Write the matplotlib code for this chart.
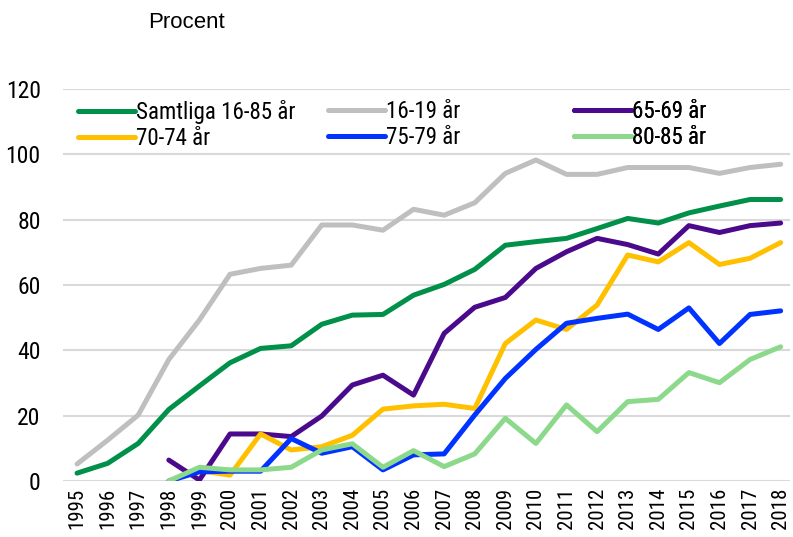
import os
import numpy as np
import matplotlib
matplotlib.use("Agg")
import matplotlib.pyplot as plt
from matplotlib import font_manager

years = list(range(1995, 2019))
year_labels = [str(y) for y in years]

samtliga = [2.4, 5.4, 11.5, 21.9, 29.1, 36.2, 40.6, 41.4, 48, 50.8, 51, 56.9,
            60.2, 64.8, 72.2, 73.3, 74.3, 77.3, 80.4, 79, 82.1, 84.2, 86.2, 86.2]
age_16_19 = [5.2, 12.5, 20.2, 37.2, 49.3, 63.3, 65.1, 66.1, 78.4, 78.4, 76.8, 83.2,
             81.4, 85.2, 94.2, 98.3, 93.9, 93.9, 96, 96, 96, 94.2, 96, 97]
# older groups start in 1998
age_65_69 = [6.4, 0.3, 14.4, 14.4, 13.6, 19.9, 29.4, 32.4, 26.3, 45.2, 53.2, 56.2,
             65.1, 70.2, 74.3, 72.4, 69.5, 78.2, 76.1, 78.2, 79]
age_70_74 = [0, 3.2, 1.8, 14.4, 9.5, 10.5, 14, 22, 23, 23.5, 22.2, 42.1,
             49.3, 46.4, 53.9, 69.2, 67.1, 73, 66.3, 68.2, 73]
age_75_79 = [0, 2.8, 3, 3, 13, 8.5, 10.5, 3.4, 8, 8.3, 20.2, 31.4,
             40.3, 48.3, 49.8, 51.1, 46.4, 53, 42.1, 51, 52.1]
age_80_85 = [0, 4.2, 3.4, 3.4, 4.2, 9.5, 11.4, 4.2, 9.3, 4.4, 8.3, 19.2,
             11.5, 23.3, 15.1, 24.3, 25, 33.2, 30.1, 37.2, 41.1]

series = [
    ("Samtliga 16-85 år", samtliga, "#00904a"),
    ("16-19 år", age_16_19, "#bfbfbf"),
    ("65-69 år", age_65_69, "#4b0a8c"),
    ("70-74 år", age_70_74, "#ffc000"),
    ("75-79 år", age_75_79, "#0033ff"),
    ("80-85 år", age_80_85, "#8cd98c"),
]

# look for a condensed face, the original uses one
wanted = ["liberationsansnarrow-regular", "robotocondensed-regular",
          "dejavusanscondensed.ttf", "notosans-condensed.ttf",
          "opensans_condensed-regular", "opensanscondensed-regular"]
cond_path = None
files = [f.fname for f in font_manager.fontManager.ttflist]
for w in wanted:
    for fn in files:
        if w in os.path.basename(fn).lower():
            cond_path = fn
            break
    if cond_path:
        break

if cond_path:
    fp = font_manager.FontProperties(fname=cond_path)
    scale = 1.0
else:
    fp = font_manager.FontProperties(family="DejaVu Sans")
    scale = 0.8

fig = plt.figure(figsize=(7.93, 5.37), dpi=100)
ax = fig.add_axes([0.0794, 0.1043, 0.9166, 0.7297])

x = np.arange(len(years))
lines = []
for label, vals, col in series:
    xs = x[len(years) - len(vals):]
    ln, = ax.plot(xs, vals, color=col, lw=3.6, label=label,
                  solid_capstyle='round', solid_joinstyle='round')
    lines.append(ln)

ax.set_ylim(0, 120)
ax.set_xlim(-0.46, 23.3)
ax.set_yticks(range(0, 121, 20))
ax.yaxis.grid(True, color="#d9d9d9", lw=1.5)
ax.set_axisbelow(True)
ax.set_xticks(x)
ax.set_xticklabels(year_labels, rotation=90)
ax.tick_params(axis='both', length=0)
ax.tick_params(axis='y', pad=16)
ax.tick_params(axis='x', pad=5)
for t in ax.get_yticklabels():
    t.set_fontproperties(fp)
    t.set_fontsize(17 * scale)
for t in ax.get_xticklabels():
    t.set_fontproperties(fp)
    t.set_fontsize(15 * scale)
for s in ax.spines.values():
    s.set_visible(False)

# one legend per column, like the Excel layout
col_x = [0.0206, 0.3645, 0.703]
leg_fp = fp.copy()
leg_fp.set_size(16.5 * scale)
for i, cx in enumerate(col_x):
    pair = [lines[i], lines[i + 3]]
    leg = ax.legend(pair, [l.get_label() for l in pair], loc="upper left",
                    bbox_to_anchor=(cx, 0.972), frameon=False, prop=leg_fp,
                    handlelength=2.5, handletextpad=0.05, labelspacing=0.12,
                    borderpad=0, borderaxespad=0)
    ax.add_artist(leg)

fig.text(0.187, 0.958, "Procent", fontsize=16, va="center", family="Liberation Sans")

fig.savefig("out.png", dpi=100)
